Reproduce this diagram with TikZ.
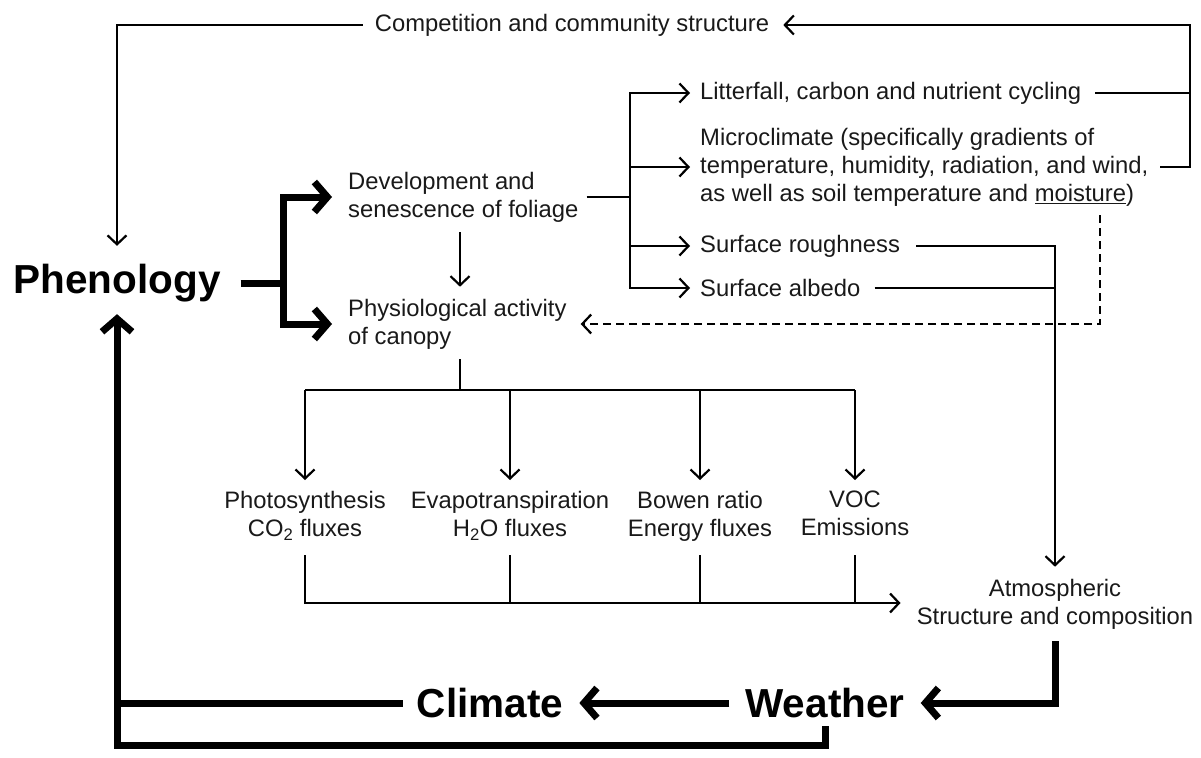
\documentclass[tikz,border=0pt]{standalone}
\usepackage{fontspec}
\setmainfont{Liberation Sans}
\usetikzlibrary{arrows.meta,calc}
\begin{document}
\begin{tikzpicture}[x=1pt,y=-1pt,
  txt/.style={font=\fontsize{23.8}{28}\selectfont, inner sep=0pt, text=black!90},
  big/.style={font=\fontsize{40.5}{44}\selectfont\bfseries, inner sep=0pt},
  thinln/.style={line width=2.2pt},
  boldln/.style={line width=7pt},
  tarr/.style={-{Straight Barb[length=9pt,width=19pt]}},
  barr/.style={-{Straight Barb[length=13pt,width=30pt]}},
  dashln/.style={dash pattern=on 8pt off 5pt}
]
\useasboundingbox (0,0) rectangle (1201,757);

% nodes
\node[txt] (comp) at (572,25) {Competition and community structure};
\node[big] (phen) at (117,283) {Phenology};
\node[txt,anchor=west,align=left] (dev) at (348,197) {Development and\\senescence of foliage};
\node[txt,anchor=west,align=left] (phys) at (348,324) {Physiological activity\\of canopy};
\node[txt,anchor=west] (lit) at (700,93) {Litterfall, carbon and nutrient cycling};
\node[txt,anchor=west,align=left] (micro) at (700,167) {Microclimate (specifically gradients of\\temperature, humidity, radiation, and wind,\\as well as soil temperature and \underline{moisture})};
\node[txt,anchor=west] (rough) at (700,246) {Surface roughness};
\node[txt,anchor=west] (albedo) at (700,288) {Surface albedo};
\node[txt,align=center,anchor=north] (photo) at (305,491) {Photosynthesis\\CO\textsubscript{2} fluxes};
\node[txt,align=center,anchor=north] (evap) at (510,491) {Evapotranspiration\\H\textsubscript{2}O fluxes};
\node[txt,align=center,anchor=north] (bowen) at (700,491) {Bowen ratio\\Energy fluxes};
\node[txt,align=center,anchor=north] (voc) at (855,491) {VOC\\Emissions};
\node[txt,align=center] (atm) at (1055,604) {Atmospheric\\Structure and composition};
\node[big] (weather) at (825,703) {Weather};
\node[big] (climate) at (490,703) {Climate};

% helper coordinates
\coordinate (rc) at (1190,25);
\coordinate (pb) at (283,283);
\coordinate (db) at (630,197);
\coordinate (dtop) at (1100,215);
\coordinate (dp) at (460,0);
\coordinate (bus) at (0,390);
\coordinate (tips) at (0,480);
\coordinate (starts) at (0,555);
\coordinate (bus2) at (0,603);
\coordinate (ybot) at (0,745);

% top feedback: competition
\draw[thinln,tarr] ([xshift=-12pt]comp.west) -| ([yshift=18pt]phen.north);
\draw[thinln,tarr] ([xshift=12pt]micro.east) -| (rc) -- ([xshift=14pt]comp.east);
\draw[thinln] ([xshift=14pt]lit.east) -- (lit.east -| rc);

% phenology branches
\draw[boldln] ([xshift=20pt]phen.east) -- (pb);
\draw[boldln,barr,line join=miter] (pb) |- ([xshift=-16pt]dev.west);
\draw[boldln,barr,line join=miter] (pb) |- ([xshift=-16pt]phys.west);

% development to physiology
\draw[thinln,tarr] ([yshift=-10pt]dp |- dev.south) -- ([yshift=12pt]dp |- phys.north);

% development to consequences
\draw[thinln] ([xshift=8pt]dev.east) -- (db);
\draw[thinln,tarr] (db) |- ([xshift=-10pt]lit.west);
\draw[thinln,tarr] (db) |- ([xshift=-10pt]micro.west);
\draw[thinln,tarr] (db) |- ([xshift=-10pt]rough.west);
\draw[thinln,tarr] (db) |- ([xshift=-10pt]albedo.west);

% dashed microclimate feedback
\draw[thinln,dashln,tarr] (dtop) |- ([xshift=14pt]phys.east);

% roughness and albedo to atmosphere
\draw[thinln,tarr] ([xshift=16pt]rough.east) -| ([yshift=12pt]atm.north);
\draw[thinln] ([xshift=14pt]albedo.east) -- (albedo.east -| atm.north);

% physiology to fluxes
\draw[thinln] ([yshift=-10pt]dp |- phys.south) -- (dp |- bus);
\draw[thinln] (photo.north |- bus) -- (voc.north |- bus);
\draw[thinln,tarr] (photo.north |- bus) -- (photo.north |- tips);
\draw[thinln,tarr] (evap.north |- bus) -- (evap.north |- tips);
\draw[thinln,tarr] (bowen.north |- bus) -- (bowen.north |- tips);
\draw[thinln,tarr] (voc.north |- bus) -- (voc.north |- tips);

% fluxes to atmosphere
\draw[thinln,tarr] (photo.south |- starts) |- ([xshift=-16pt]atm.west |- bus2);
\draw[thinln] (evap.south |- starts) -- (evap.south |- bus2);
\draw[thinln] (bowen.south |- starts) -- (bowen.south |- bus2);
\draw[thinln] (voc.south |- starts) -- (voc.south |- bus2);

% atmosphere -> weather -> climate -> phenology
\draw[boldln,barr,line join=miter] ([yshift=-12pt]atm.south) |- ([xshift=16pt]weather.east);
\draw[boldln,barr] ([xshift=-16pt]weather.west) -- ([xshift=16pt]climate.east);
\draw[boldln] ([xshift=-14pt]climate.west) -- (phen.south |- climate.west);
\draw[boldln,barr,line join=miter] ([yshift=-8pt]weather.south) |- (phen.south |- ybot) -- ([yshift=-12pt]phen.south);
\end{tikzpicture}
\end{document}
